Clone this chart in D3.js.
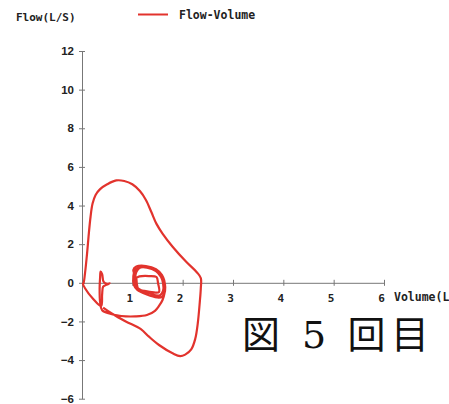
<!DOCTYPE html>
<html>
<head>
<meta charset="utf-8">
<script src="https://cdn.jsdelivr.net/npm/d3@7"></script>
<style>
  body { margin: 0; background: #fff; }
  svg { display: block; }
</style>
</head>
<body>
<svg id="chart" width="449" height="404"></svg>
<script>
var svg = d3.select("#chart");

// tick values
var xTicks = [1, 2, 3, 4, 5, 6];
var yTicks = [-6, -4, -2, 0, 2, 4, 6, 8, 10, 12];

// flow-volume trace (volume L, flow L/S)
var volume = [
  // tidal loops
  1.08, 1.14, 1.33, 1.48, 1.51, 1.53, 1.43, 1.24, 1.12, 1.09, 1.08,
  1.02, 1.08, 1.27, 1.47, 1.59, 1.64, 1.65, 1.59, 1.49, 1.29, 1.10, 1.03, 1.02,
  1.05, 1.12, 1.29, 1.47, 1.57, 1.61, 1.61, 1.54, 1.33, 1.12, 1.06, 1.06,
  1.08, 1.14, 1.33, 1.49, 1.61, 1.65, 1.64,
  // down to the left
  1.60, 1.53, 1.45, 1.29, 1.06, 0.78, 0.56, 0.40,
  // small spike
  0.36, 0.35, 0.36, 0.37, 0.40, 0.43, 0.50, 0.55, 0.47, 0.42, 0.40, 0.38,
  // back to zero
  0.21, 0.06, 0.02,
  // big loop
  0.03, 0.06, 0.10, 0.13, 0.17, 0.21, 0.27, 0.36, 0.50, 0.68, 0.84, 1.00,
  1.15, 1.27, 1.38, 1.48, 1.60, 1.80, 2.07, 2.28, 2.36, 2.36, 2.34, 2.30,
  2.25, 2.17, 2.05, 1.95, 1.80, 1.53, 1.33, 1.17, 0.87, 0.60, 0.42
];
var flow = [
  0.25, 0.33, 0.35, 0.30, -0.01, -0.48, -0.50, -0.42, -0.32, -0.06, 0.20,
  0.66, 0.84, 0.87, 0.71, 0.40, 0.04, -0.42, -0.73, -0.76, -0.61, -0.37, -0.11, 0.35,
  0.64, 0.77, 0.79, 0.61, 0.30, -0.01, -0.42, -0.66, -0.53, -0.30, -0.01, 0.35,
  0.56, 0.77, 0.82, 0.66, 0.30, -0.11, -0.53,
  -0.89, -1.20, -1.45, -1.67, -1.74, -1.72, -1.60, -1.42,
  -1.00, -0.30, 0.30, 0.58, 0.45, 0.05, -0.05, -0.03, -0.12, -0.20, -0.60, -1.20,
  -0.80, -0.28, -0.05,
  -0.02, 0.50, 1.50, 2.39, 3.42, 4.10, 4.55, 4.85, 5.10, 5.30, 5.27, 5.10,
  4.75, 4.29, 3.65, 3.05, 2.55, 1.87, 1.09, 0.55, 0.25, -0.30, -1.00, -2.10,
  -2.90, -3.45, -3.72, -3.80, -3.65, -3.22, -2.79, -2.40, -2.00, -1.60, -1.28
];

var lineColor = "#e2332d";

var xScale = d3.scaleLinear().domain([0, 6]).range([82, 384]);
var yScale = d3.scaleLinear().domain([-6, 12]).range([398.7, 51]);

var points = volume.map((v, i) => ({ v: v, f: flow[i] }));

// axes
var yAxis = d3.axisLeft(yScale).tickValues(yTicks).tickSizeInner(3).tickSizeOuter(0).tickPadding(6);
var xAxis = d3.axisBottom(xScale).tickValues(xTicks).tickSizeInner(3).tickSizeOuter(0).tickFormat(d3.format("d")).tickPadding(8);

var gy = svg.append("g").attr("transform", "translate(" + xScale(0) + ",0)").call(yAxis);
gy.select(".domain").attr("stroke", "#777");
gy.selectAll(".tick line").attr("stroke", "#777").attr("x2", 3).attr("x1", -3);
gy.selectAll(".tick text")
  .attr("font-family", "Liberation Sans, Arial, sans-serif")
  .attr("font-weight", "bold")
  .attr("font-size", 11.5)
  .attr("fill", "#222")
  .attr("x", -8);

var gx = svg.append("g").attr("transform", "translate(0," + yScale(0) + ")").call(xAxis);
gx.select(".domain").attr("stroke", "#777");
gx.selectAll(".tick line").attr("stroke", "#777").attr("y1", -3).attr("y2", 3);
gx.selectAll(".tick text")
  .attr("font-family", "DejaVu Sans Mono, monospace")
  .attr("font-weight", "bold")
  .attr("font-size", 11)
  .attr("fill", "#222")
  .attr("dx", -3);

// the trace
var line = d3.line()
  .x((d) => xScale(d.v))
  .y((d) => yScale(d.f))
  .curve(d3.curveCatmullRom.alpha(0.5));

svg.append("path")
  .datum(points)
  .attr("d", line)
  .attr("fill", "none")
  .attr("stroke", lineColor)
  .attr("stroke-width", 2.2)
  .attr("stroke-linejoin", "round");

// header + legend
var mono = "DejaVu Sans Mono, monospace";
svg.append("text").text("Flow(L/S)")
  .attr("x", 16).attr("y", 21)
  .attr("font-family", mono).attr("font-weight", "bold").attr("font-size", 11)
  .attr("fill", "#222");

svg.append("line")
  .attr("x1", 138).attr("x2", 168).attr("y1", 14.5).attr("y2", 14.5)
  .attr("stroke", lineColor).attr("stroke-width", 2);

svg.append("text").text("Flow-Volume")
  .attr("x", 179).attr("y", 19)
  .attr("font-family", mono).attr("font-weight", "bold").attr("font-size", 11.5)
  .attr("fill", "#222");

svg.append("text").text("Volume(L)")
  .attr("x", 394).attr("y", 301)
  .attr("font-family", mono).attr("font-weight", "bold").attr("font-size", 11.5)
  .attr("fill", "#222");

// caption
var caption = [
  { t: "図", x: 261, font: "Noto Sans CJK JP" },
  { t: "5", x: 314, font: "DejaVu Serif, serif" },
  { t: "回", x: 366.5, font: "Noto Sans CJK JP" },
  { t: "目", x: 410, font: "Noto Sans CJK JP" }
];
svg.selectAll(".cap")
  .data(caption)
  .enter()
  .append("text")
  .attr("class", "cap")
  .text((d) => d.t)
  .attr("x", (d) => d.x)
  .attr("y", 348)
  .attr("text-anchor", "middle")
  .attr("font-family", (d) => d.font)
  .attr("font-size", 38)
  .attr("fill", "#111");
</script>
</body>
</html>
